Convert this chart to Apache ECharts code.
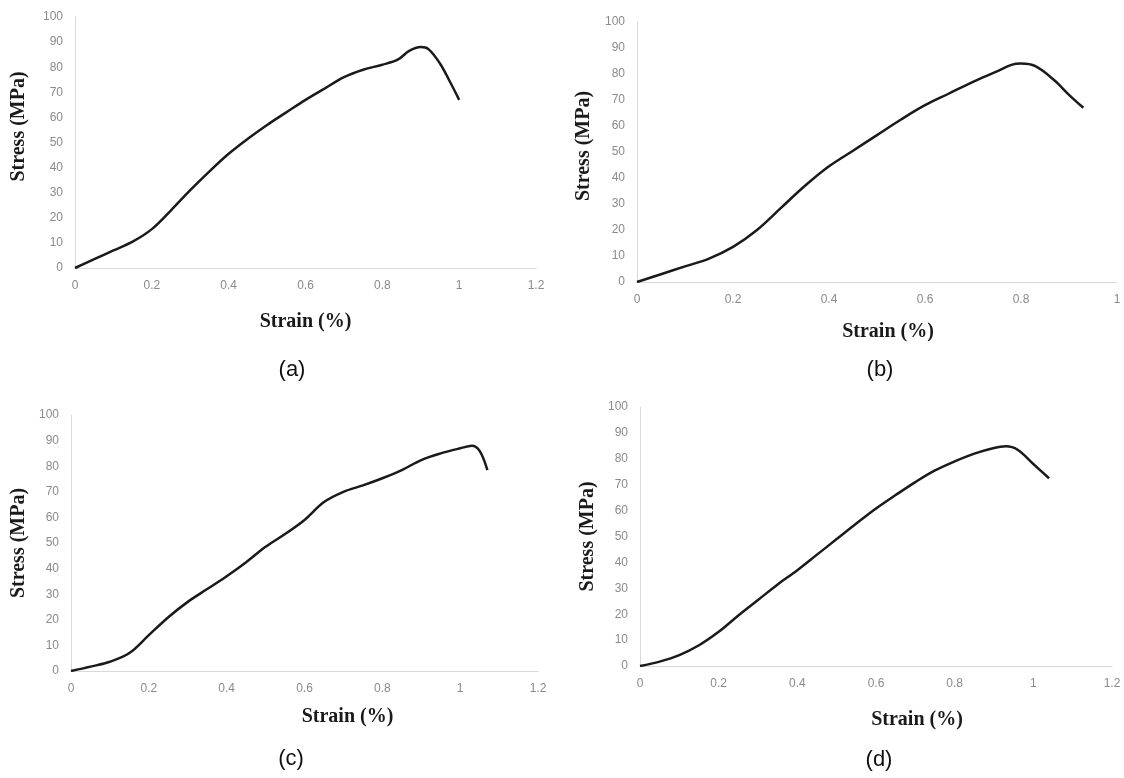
<!DOCTYPE html>
<html>
<head>
<meta charset="utf-8">
<script src="https://cdn.jsdelivr.net/npm/echarts@6/dist/echarts.min.js"></script>
<style>
  html, body { margin: 0; padding: 0; background: #fff; }
  #main { width: 1124px; height: 778px; }
</style>
</head>
<body>
<div id="main"></div>
<script>
// stress-strain curves
var strainA = [0, 0.05, 0.1, 0.15, 0.2, 0.25, 0.3, 0.35, 0.4, 0.45, 0.5, 0.55, 0.6, 0.65, 0.7, 0.75, 0.8, 0.84, 0.87, 0.9, 0.92, 0.95, 0.975, 1.0];
var stressA = [0, 3.5, 7, 10.5, 15.5, 23, 31, 38.5, 45.5, 51.5, 57, 62, 67, 71.5, 76, 79, 81, 83, 86.5, 88, 87.2, 81.5, 74.5, 67];

var strainB = [0, 0.05, 0.1, 0.15, 0.2, 0.25, 0.3, 0.35, 0.4, 0.45, 0.5, 0.55, 0.6, 0.65, 0.7, 0.75, 0.78, 0.8, 0.83, 0.87, 0.9, 0.93];
var stressB = [0, 3, 6, 9, 13.5, 20, 28.5, 37, 44.5, 50.5, 56.5, 62.5, 68, 72.5, 77, 81, 83.5, 84, 83, 77.5, 72, 67];

var strainC = [0, 0.05, 0.1, 0.15, 0.2, 0.25, 0.3, 0.35, 0.4, 0.45, 0.5, 0.55, 0.6, 0.65, 0.7, 0.75, 0.8, 0.85, 0.9, 0.95, 1.0, 1.03, 1.05, 1.07];
var stressC = [0, 1.7, 3.6, 7, 14, 21, 27, 32, 37, 42.5, 48.5, 53.5, 59, 66, 70, 72.5, 75.3, 78.5, 82.4, 85, 87, 88, 86, 78.5];

var strainD = [0, 0.05, 0.1, 0.15, 0.2, 0.25, 0.3, 0.35, 0.4, 0.45, 0.5, 0.55, 0.6, 0.65, 0.7, 0.75, 0.8, 0.85, 0.9, 0.93, 0.96, 1.0, 1.04];
var stressD = [0, 1.7, 4.2, 8, 13.2, 19.5, 25.5, 31.5, 37, 43, 49, 55, 60.8, 66, 71, 75.5, 79, 82, 84.2, 84.8, 83.5, 78, 72.5];

var xMax = [1.2, 1, 1.2, 1.2];
var captions = ['(a)', '(b)', '(c)', '(d)'];

function pairs(xs, ys) {
    return xs.map(function (x, i) { return [x, ys[i]]; });
}

var curves = [pairs(strainA, stressA), pairs(strainB, stressB), pairs(strainC, stressC), pairs(strainD, stressD)];

var grids = [
    {left: 75, top: 17, width: 461, height: 251},
    {left: 637, top: 22, width: 480, height: 260},
    {left: 71, top: 415, width: 467, height: 256},
    {left: 640, top: 407, width: 472, height: 259}
];
// name placement tweaks per panel
var xNameGap = [44, 40, 36, 44];
var xNameShift = [0, 22, 86, 82];
var yNameGap = [46, 43, 42, 42];
var yNameShift = [32, 12, 0, 0];

var titleFont = {fontFamily: 'Liberation Serif', fontWeight: 'bold', fontSize: 20, color: '#1a1a1a'};
var tickFont = {fontFamily: 'Liberation Sans', fontSize: 12, color: '#8a8a8a'};
var axisLine = {show: true, lineStyle: {color: '#d9d9d9', width: 1}};

var xAxes = [], yAxes = [], series = [];
for (var i = 0; i < 4; i++) {
    xAxes.push({
        type: 'value', gridIndex: i, min: 0, max: xMax[i], interval: 0.2,
        name: 'Strain (%)', nameLocation: 'middle', nameGap: xNameGap[i],
        nameTextStyle: Object.assign({padding: [0, 0, 0, xNameShift[i]]}, titleFont),
        axisLine: axisLine, axisTick: {show: false}, splitLine: {show: false},
        axisLabel: Object.assign({margin: 12}, tickFont)
    });
    yAxes.push({
        type: 'value', gridIndex: i, min: 0, max: 100, interval: 10,
        name: 'Stress (MPa)', nameLocation: 'middle', nameGap: yNameGap[i],
        nameTextStyle: Object.assign({padding: [0, 0, 0, yNameShift[i]]}, titleFont),
        axisLine: axisLine, axisTick: {show: false}, splitLine: {show: false},
        axisLabel: Object.assign({margin: 12}, tickFont)
    });
    series.push({
        type: 'line', xAxisIndex: i, yAxisIndex: i, data: curves[i],
        smooth: 0.35, showSymbol: false, symbol: 'none',
        lineStyle: {color: '#1a1a1a', width: 2.5}
    });
}

var captionPos = [[292, 370], [880, 370], [291, 759], [879, 760]];
var graphics = captions.map(function (c, i) {
    return {
        type: 'text', x: captionPos[i][0], y: captionPos[i][1],
        style: {text: c, fontFamily: 'Liberation Sans', fontSize: 22, fill: '#111', align: 'center', verticalAlign: 'middle'}
    };
});

var chart = echarts.init(document.getElementById('main'));
chart.setOption({
    animation: false,
    backgroundColor: '#fff',
    grid: grids,
    xAxis: xAxes,
    yAxis: yAxes,
    series: series,
    graphic: graphics
});
</script>
</body>
</html>
